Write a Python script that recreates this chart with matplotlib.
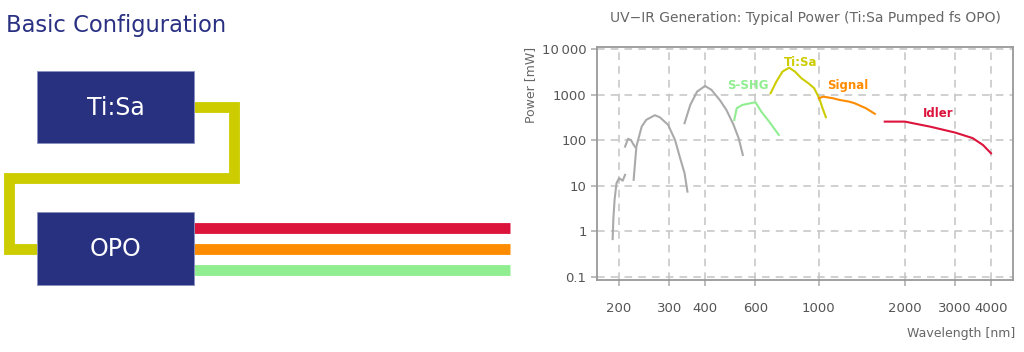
import matplotlib.pyplot as plt
import matplotlib.ticker as mticker
from matplotlib.patches import Rectangle

# --- chart data ---
uv1_nm = [190, 191, 193, 196, 200, 206, 210]
uv1_mw = [0.68, 1.8, 5, 11.5, 14.8, 13, 17.5]

uv2_nm = [210, 215, 220, 225, 228]
uv2_mw = [73, 108, 102, 80, 71]

uv3_nm = [225, 230, 240, 249, 267, 278, 297, 314, 326, 339, 347]
uv3_mw = [13.6, 73, 200, 282, 357, 320, 219, 102, 44, 19, 7.5]

vis_nm = [339, 355, 375, 400, 421, 450, 475, 503, 524, 542]
vis_mw = [238, 600, 1176, 1566, 1285, 774, 465, 220, 112, 48]

sshg_nm = [506, 516, 540, 600, 629, 670, 724]
sshg_mw = [281, 508, 600, 688, 428, 258, 132]

tisa_nm = [678, 710, 746, 787, 825, 869, 919, 963, 1003, 1030, 1058]
tisa_mw = [1084, 1950, 3230, 3950, 3230, 2310, 1795, 1396, 841, 508, 323]

signal_nm = [1000, 1036, 1120, 1180, 1274, 1333, 1460, 1570]
signal_mw = [841, 912, 841, 774, 710, 654, 508, 382]

idler_nm = [1700, 2000, 2450, 3000, 3450, 3750, 4000]
idler_mw = [258, 258, 200, 148, 112, 79, 52]

labels = ["S-SHG", "Ti:Sa", "Signal", "Idler"]
label_nm = [565, 860, 1265, 2610]
label_mw = [1566, 5250, 1640, 380]

xticks = [200, 300, 400, 600, 1000, 2000, 3000, 4000]
yticks = [0.1, 1, 10, 100, 1000, 10000]
ytick_labels = ["0.1", "1", "10", "100", "1000", "10\u2009000"]

GREY = "#aaaaaa"
GREEN = "#90ee90"
YELLOW = "#cccc00"
ORANGE = "#ff8c00"
RED = "#dc143c"
NAVY = "#27317f"

# --- diagram geometry (pixel space) ---
boxes = [(37, 71, 157, 72, "Ti:Sa"), (37, 212, 157, 73, "OPO")]
pump_x = [194, 234, 234, 9, 9, 37]
pump_y = [107, 107, 178, 178, 249, 249]
beam_y = [228, 249, 269.5]
beam_colors = [RED, ORANGE, GREEN]

plt.rcParams['font.family'] = ['DejaVu Sans']

fig = plt.figure(figsize=(10.24, 3.52), dpi=100)

dax = fig.add_axes([0, 0, 1, 1])
dax.set_xlim(0, 1024)
dax.set_ylim(352, 0)
dax.axis('off')

dax.text(6, 32, "Basic Configuration", color="#2a3183", fontsize=16.3,
         ha="left", va="baseline")

dax.plot(pump_x, pump_y, color=YELLOW, lw=7.8, solid_joinstyle="miter",
         solid_capstyle="butt")
for y, c in zip(beam_y, beam_colors):
    dax.plot([194, 510], [y, y], color=c, lw=7.8, solid_capstyle="butt")
for x, y, w, h, name in boxes:
    dax.add_patch(Rectangle((x, y), w, h, facecolor=NAVY, edgecolor="#8a90c0",
                            lw=0.6, zorder=3))
    dax.text(x + w / 2, y + h / 2 + 1, name, color="white", fontsize=17,
             ha="center", va="center", zorder=4)

# --- power chart ---
ax = fig.add_axes([597 / 1024, 1 - 280 / 352, 416 / 1024, 233 / 352])
ax.set_xscale("log")
ax.set_yscale("log")

for xs, ys in [(uv1_nm, uv1_mw), (uv2_nm, uv2_mw), (uv3_nm, uv3_mw), (vis_nm, vis_mw)]:
    ax.plot(xs, ys, color=GREY, lw=1.5)
ax.plot(sshg_nm, sshg_mw, color=GREEN, lw=1.5)
ax.plot(tisa_nm, tisa_mw, color=YELLOW, lw=1.5)
ax.plot(signal_nm, signal_mw, color=ORANGE, lw=1.5)
ax.plot(idler_nm, idler_mw, color=RED, lw=1.5)

for text, x, y, c in zip(labels, label_nm, label_mw, [GREEN, YELLOW, ORANGE, RED]):
    ax.text(x, y, text, color=c, fontsize=8.5, fontweight="bold", ha="center", va="center")

ax.set_xlim(167.5, 4775)
ax.set_ylim(10 ** -1.066, 10 ** 4.05)

ax.xaxis.set_major_locator(mticker.FixedLocator(xticks))
ax.xaxis.set_major_formatter(mticker.FixedFormatter([str(t) for t in xticks]))
ax.xaxis.set_minor_locator(mticker.NullLocator())
ax.yaxis.set_major_locator(mticker.FixedLocator(yticks))
ax.yaxis.set_major_formatter(mticker.FixedFormatter(ytick_labels))
ax.yaxis.set_minor_locator(mticker.NullLocator())

ax.grid(True, color="#c4c4c4", ls=(0, (5, 4)), lw=1.1)
ax.tick_params(colors="#aaaaaa", labelcolor="#555555", labelsize=9.5, length=4, width=1.1)
ax.tick_params(axis="x", pad=12)
for sp in ax.spines.values():
    sp.set_color("#999999")
    sp.set_linewidth(1.3)

ax.set_title("UV\u2212IR Generation: Typical Power (Ti:Sa Pumped fs OPO)", color="#666666",
             fontsize=10, pad=18)
fig.text(1015 / 1024, 1 - 334 / 352, "Wavelength [nm]", color="#666666", fontsize=9,
         ha="right", va="center")
fig.text(531 / 1024, 1 - 85 / 352, "Power [mW]", color="#666666", fontsize=9,
         rotation=90, ha="center", va="center")

fig.savefig("out.png", dpi=100)
